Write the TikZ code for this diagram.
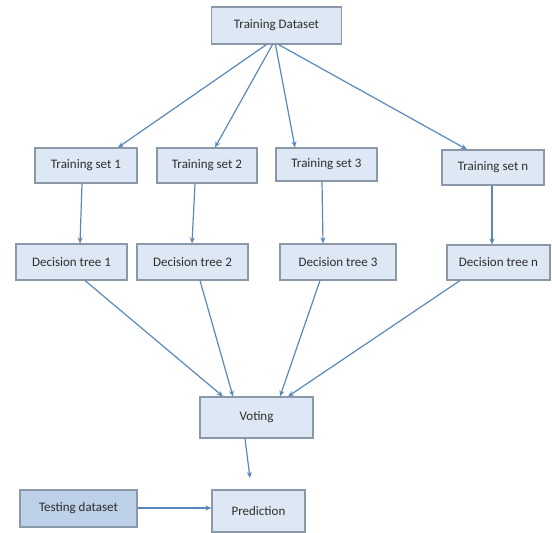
\documentclass[tikz,border=0pt]{standalone}
\usepackage{fontspec}
\setmainfont{Carlito}
\usetikzlibrary{arrows.meta}
\definecolor{boxfill}{HTML}{DDE8F4}
\definecolor{boxfilldark}{HTML}{BCD0E8}
\definecolor{boxline}{HTML}{8A98A8}
\definecolor{arrowcol}{HTML}{5A88BA}
\definecolor{txt}{HTML}{2E2E2E}
\tikzset{
  box/.style={draw=boxline, line width=1.1pt, fill=boxfill, text=txt, font=\fontsize{13}{15}\selectfont, inner sep=0pt},
  conn/.style={draw=arrowcol, line width=1.2pt, -{Stealth[length=6pt,width=5pt]}}
}
\begin{document}
\begin{tikzpicture}[x=1pt,y=-1pt]
\useasboundingbox (0,0) rectangle (552,533);
\node[box, minimum width=130pt, minimum height=37pt] (TD) at (276.5,25.5) {Training Dataset};
\node[box, minimum width=102pt, minimum height=35pt] (TS1) at (86,165.5) {Training set 1};
\node[box, minimum width=100pt, minimum height=35pt] (TS2) at (207,165.5) {Training set 2};
\node[box, minimum width=101pt, minimum height=33pt] (TS3) at (326.5,164.5) {Training set 3};
\node[box, minimum width=102pt, minimum height=35pt] (TSn) at (493,167.5) {Training set n};
\node[box, minimum width=111pt, minimum height=36pt] (DT1) at (71.5,262) {Decision tree 1};
\node[box, minimum width=111pt, minimum height=36pt] (DT2) at (192.5,262) {Decision tree 2};
\node[box, minimum width=116pt, minimum height=36pt] (DT3) at (338,262) {Decision tree 3};
\node[box, minimum width=103pt, minimum height=35pt] (DTn) at (498.5,262.5) {Decision tree n};
\node[box, minimum width=113pt, minimum height=41pt] (V) at (256.5,417.5) {Voting};
\node[box, minimum width=93pt, minimum height=42pt] (P) at (258.5,511) {Prediction};
\node[box, fill=boxfilldark, minimum width=117pt, minimum height=37pt] (T) at (78.5,508.5) {Testing dataset};
\coordinate (Vend) at (250,478);
% fan out
\draw[conn] ([xshift=-10pt]TD.south) -- ([xshift=32pt]TS1.north);
\draw[conn] ([xshift=-4pt]TD.south) -- ([xshift=8pt]TS2.north);
\draw[conn] ([xshift=-1pt]TD.south) -- ([xshift=-31.5pt]TS3.north);
\draw[conn] ([xshift=2pt]TD.south) -- ([xshift=-26pt]TSn.north);
% vertical
\draw[conn] ([xshift=-4pt]TS1.south) -- ([xshift=8.5pt]DT1.north);
\draw[conn] ([xshift=-12pt]TS2.south) -- ([xshift=-0.5pt]DT2.north);
\draw[conn] ([xshift=-4.5pt]TS3.south) -- ([xshift=-15pt]DT3.north);
\draw[conn] ([xshift=-1pt]TSn.south) -- ([xshift=-6.5pt]DTn.north);
% to voting
\draw[conn] ([xshift=13.5pt]DT1.south) -- ([xshift=-33.5pt]V.north);
\draw[conn] ([xshift=7.5pt]DT2.south) -- ([xshift=-23.5pt]V.north);
\draw[conn] ([xshift=-18pt]DT3.south) -- ([xshift=23.5pt]V.north);
\draw[conn] ([xshift=-38.5pt]DTn.south) -- ([xshift=31.5pt]V.north);
% bottom
\draw[conn] ([xshift=-11.5pt]V.south) -- (Vend);
\draw[conn] (T.east |- 0,508) -- (P.west |- 0,508);
\end{tikzpicture}
\end{document}
